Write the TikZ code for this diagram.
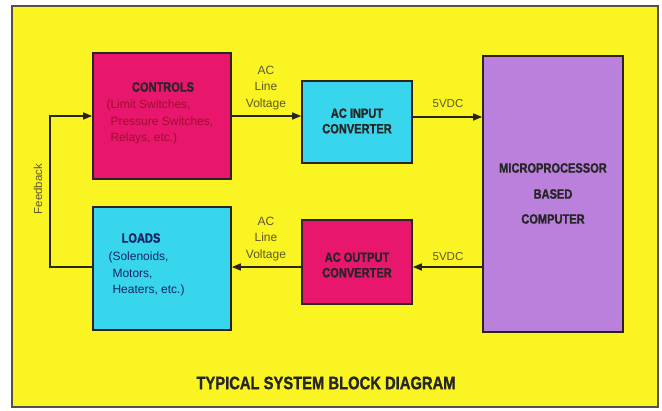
\documentclass[tikz,border=0pt]{standalone}
\usepackage{fontspec}
\setmainfont{Liberation Sans}
\newfontfamily\hd[FakeStretch=0.82, BoldFeatures={FakeBold=1.2}]{Liberation Sans}
\usetikzlibrary{arrows.meta}
\definecolor{yel}{RGB}{250,244,35}
\definecolor{mag}{RGB}{232,22,108}
\definecolor{cya}{RGB}{55,214,236}
\definecolor{pur}{RGB}{186,128,220}
\definecolor{edge}{RGB}{45,35,30}
\definecolor{lbl}{RGB}{95,88,40}
\definecolor{redtxt}{RGB}{160,15,45}
\definecolor{navy}{RGB}{25,35,100}
\tikzset{
  blk/.style={draw=edge, line width=1.6pt, inner sep=0pt},
  conn/.style={draw=edge, line width=1.4pt, -{Triangle[length=9pt,width=7pt]}},
  head/.style={font=\hd\bfseries\fontsize{13.5}{15.5}\selectfont, text=black!85},
  sub/.style={font=\fontsize{12}{16.5}\selectfont, align=left, anchor=west},
  lab/.style={font=\fontsize{12}{16.5}\selectfont, text=lbl, align=center}
}
\begin{document}
\begin{tikzpicture}[x=1pt,y=-1pt]
\fill[white] (0,0) rectangle (662,411);
\useasboundingbox (0,0) rectangle (662,411);
\draw[fill=yel, draw=edge!80, line width=1.2pt] (12,6) rectangle (658,407);

\node[blk, fill=mag, minimum width=138pt, minimum height=126pt] (controls) at (162,116) {};
\node[blk, fill=cya, minimum width=110pt, minimum height=82pt] (acin) at (357,122) {};
\node[blk, fill=pur, minimum width=140pt, minimum height=276pt] (micro) at (553,194) {};
\node[blk, fill=cya, minimum width=138pt, minimum height=123pt] (loads) at (162,268.5) {};
\node[blk, fill=mag, minimum width=110pt, minimum height=84pt] (acout) at (357,262) {};

% texts in boxes
\node[head] (tctl) at (163,87) {CONTROLS};
\node[sub, text=redtxt] (tctlsub) at (103,122) {(Limit Switches,\\\hphantom{(}Pressure Switches,\\\hphantom{(}Relays, etc.)};
\node[head, align=center] (tacin) at (357,121) {AC INPUT\\CONVERTER};
\node[head, align=center] (tacout) at (357,265) {AC OUTPUT\\CONVERTER};
\node[head] (tm1) at (553,168) {MICROPROCESSOR};
\node[head] (tm2) at (553,194) {BASED};
\node[head] (tm3) at (553,219) {COMPUTER};
\node[head, text=navy] (tloads) at (141,238) {LOADS};
\node[sub, text=navy] (tloadsub) at (105,274) {(Solenoids,\\\hphantom{(}Motors,\\\hphantom{(}Heaters, etc.)};

% connectors
\draw[conn] (controls.east) -- (controls.east -| acin.west);
\draw[conn] ([yshift=5pt]acin.east) -- ([yshift=5pt]acin.east -| micro.west);
\draw[conn] ([yshift=-5pt]acout.east -| micro.west) -- ([yshift=-5pt]acout.east);
\draw[conn] ([yshift=-5pt]acout.west) -- ([yshift=-5pt]acout.west -| loads.east);
\coordinate (fb) at (50,190);
\draw[conn] ([yshift=1.5pt]loads.west) -| (fb) |- (controls.west);

% labels
\node[lab] (l1) at (266,88) {AC\\Line\\Voltage};
\node[lab] (l2) at (266,239) {AC\\Line\\Voltage};
\node[lab, font=\fontsize{11.5}{14}\selectfont] (l3) at (448,104) {5VDC};
\node[lab, font=\fontsize{11.5}{14}\selectfont] (l4) at (448,257) {5VDC};
\node[font=\fontsize{11.5}{13}\selectfont, text=lbl, rotate=90] (lfb) at (38,189) {Feedback};

\node[font=\hd\bfseries\fontsize{18}{20}\selectfont, text=black!85] (title) at (326,383) {TYPICAL SYSTEM BLOCK DIAGRAM};
\end{tikzpicture}
\end{document}
